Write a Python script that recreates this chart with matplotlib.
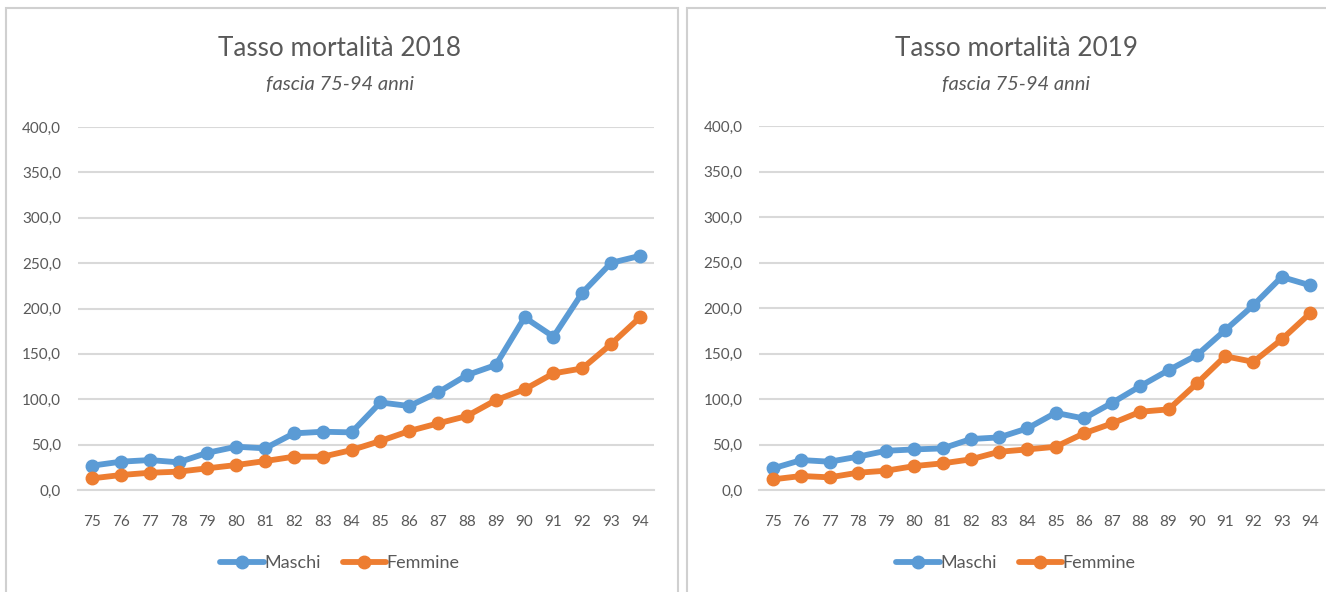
import numpy as np
import matplotlib
matplotlib.use("Agg")
from matplotlib import pyplot as plt
from matplotlib.patches import Rectangle

plt.rcParams['font.family'] = ['Lato', 'DejaVu Sans']

eta = [str(a) for a in range(75, 95)]

maschi_2018 = [26.8, 31.2, 33.0, 30.5, 41.0, 47.7, 45.9, 62.4, 64.2, 63.5,
               96.5, 92.5, 107.6, 126.6, 137.7, 190.2, 168.9, 217.3, 250.3, 258.0]
femmine_2018 = [12.8, 16.5, 19.0, 20.2, 23.9, 27.5, 31.9, 36.7, 36.7, 44.0,
                54.0, 65.0, 73.4, 81.5, 99.0, 110.9, 128.5, 134.0, 160.8, 190.2]

maschi_2019 = [23.8, 32.9, 31.1, 36.6, 43.1, 44.6, 45.7, 56.0, 57.8, 67.7,
               84.8, 78.6, 95.8, 114.2, 131.7, 148.2, 175.6, 203.0, 234.1, 225.0]
femmine_2019 = [11.7, 15.4, 13.9, 19.0, 21.2, 26.3, 29.3, 33.7, 42.0, 44.6,
                47.5, 62.2, 73.2, 86.0, 88.6, 117.1, 147.0, 140.8, 165.4, 194.0]

titoli = ["Tasso mortalità 2018", "Tasso mortalità 2019"]
sottotitolo = "fascia 75-94 anni"
y_ticks = [0, 50, 100, 150, 200, 250, 300, 350, 400]

BLU = "#5B9BD5"
ARANCIO = "#ED7D31"
GRIGIO = "#595959"

W, H = 1326, 592


def px(x0, y0, x1, y1):
    """pixel box (top-left origin) -> figure fraction rect"""
    return [x0 / W, 1 - y1 / H, (x1 - x0) / W, (y1 - y0) / H]


def grafico(fig, rect, frame, titolo, maschi, femmine, cx):
    x0, y0, x1, y1 = frame
    fig.patches.append(Rectangle((x0 / W, 1 - y1 / H), (x1 - x0) / W, (y1 - y0) / H,
                                 transform=fig.transFigure, fill=False,
                                 edgecolor="#D0D0D0", linewidth=1.5))
    ax = fig.add_axes(px(*rect))
    x = np.arange(len(eta))
    ax.plot(x, maschi, color=BLU, lw=4.2, marker="o", ms=9, label="Maschi",
            solid_capstyle="round")
    ax.plot(x, femmine, color=ARANCIO, lw=4.2, marker="o", ms=9, label="Femmine",
            solid_capstyle="round")
    ax.set_xlim(-0.5, len(eta) - 0.5)
    ax.set_ylim(0, 400)
    ax.set_yticks(y_ticks)
    ax.set_yticklabels([f"{v:.1f}".replace(".", ",") for v in y_ticks])
    ax.set_xticks(x)
    ax.set_xticklabels(eta)
    ax.grid(axis="y", color="#D9D9D9", lw=1.5)
    ax.set_axisbelow(True)
    for s in ["top", "right", "left"]:
        ax.spines[s].set_visible(False)
    ax.spines["bottom"].set_color("#D9D9D9")
    ax.spines["bottom"].set_linewidth(1.5)
    ax.tick_params(length=0, colors=GRIGIO, labelsize=11)
    ax.tick_params(axis="x", pad=18)
    ax.tick_params(axis="y", pad=12)

    fig.text(cx / W, 1 - 48 / H, titolo, ha="center", va="center",
             fontsize=18.8, color=GRIGIO)
    fig.text(cx / W, 1 - 84 / H, sottotitolo, ha="center", va="center",
             fontsize=14.5, color=GRIGIO, style="italic")
    fig.legend(handles=ax.get_lines(), loc="center", ncol=2,
               bbox_to_anchor=(cx / W, 1 - 563 / H), frameon=False,
               fontsize=13, handlelength=2.4, handletextpad=0.05,
               columnspacing=1.2, labelcolor=GRIGIO)
    return ax


def main():
    fig = plt.figure(figsize=(W / 100, H / 100), dpi=100)
    grafico(fig, (77.6, 127, 654.4, 490), (6, 8, 678, 620),
            titoli[0], maschi_2018, femmine_2018, 340)
    grafico(fig, (759, 126, 1324, 490), (687, 8, 1340, 620),
            titoli[1], maschi_2019, femmine_2019, 1016)
    fig.savefig("out.png", dpi=100)


if __name__ == '__main__':
    main()
